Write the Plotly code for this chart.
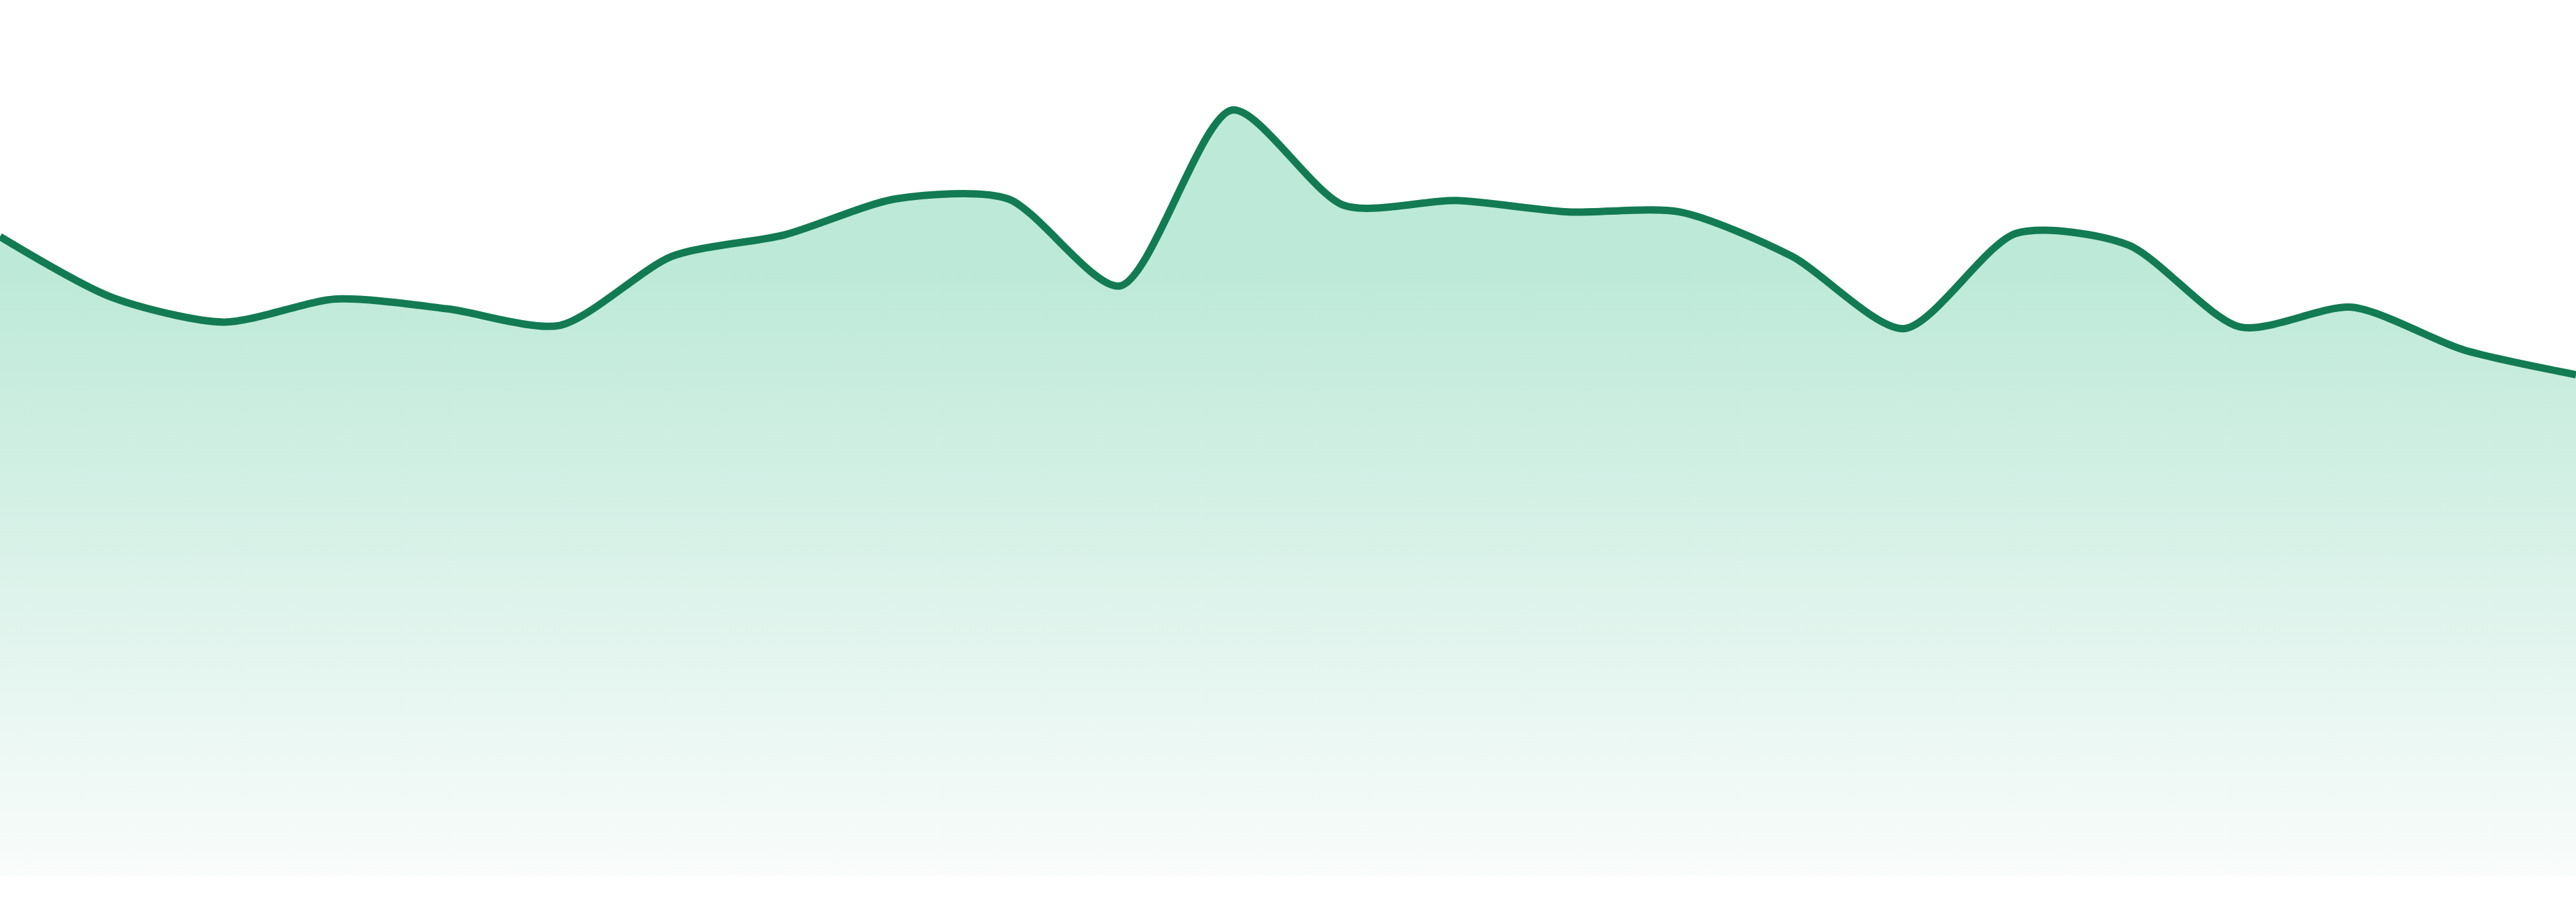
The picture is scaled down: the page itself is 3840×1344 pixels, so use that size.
import plotly.graph_objects as go

# one point per period
periods = list(range(24))
values = [389, 352, 337, 351, 345, 335, 377, 390, 412, 412, 359, 466,
          408, 411, 404, 404, 377, 333, 391, 384, 334, 346, 320, 305]

LINE_COLOR = "#127b53"

fig = go.Figure()
fig.add_trace(go.Scatter(
    x=periods,
    y=values,
    mode="lines",
    line=dict(color=LINE_COLOR, width=11, shape="spline", smoothing=0.75),
    fill="tozeroy",
    fillgradient=dict(
        type="vertical",
        colorscale=[[0, "#f9fcfb"], [1, "#bde9d8"]],
        start=0,
        stop=370,
    ),
    hoverinfo="skip",
))

fig.update_layout(
    width=3840, height=1344,
    margin=dict(l=0, r=0, t=0, b=39),
    paper_bgcolor="white",
    plot_bgcolor="white",
    showlegend=False,
    hovermode=False,
    xaxis=dict(range=[0, 23], visible=False, showgrid=False, zeroline=False),
    yaxis=dict(range=[0, 533], visible=False, showgrid=False, zeroline=False),
)

# drop the default body margin so the chart sits at the page corner
fig.write_html("out.html", config=dict(displayModeBar=False),
               post_script="document.body.style.margin='0';")
